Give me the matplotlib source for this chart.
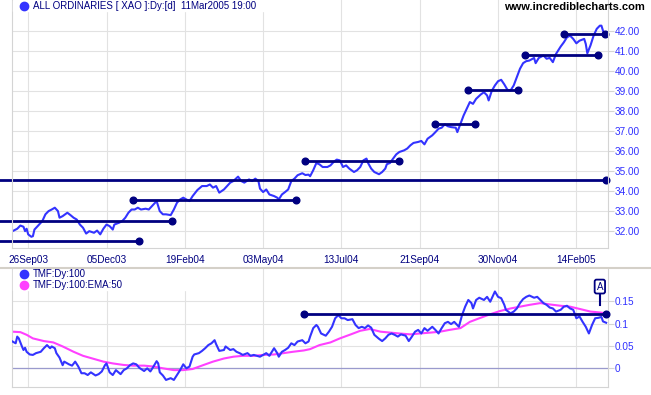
import matplotlib
matplotlib.use('Agg')
import matplotlib.pyplot as plt
from matplotlib.lines import Line2D
from matplotlib.patches import Rectangle
from matplotlib.ticker import FormatStrFormatter

plt.rcParams['font.family'] = ['Liberation Sans', 'DejaVu Sans']

# trading-day index (0 = 12Sep03, 379 = 11Mar05) and closing level of the XAO ('000s)
price_day = [0, 3, 5, 7, 8, 9, 10, 12, 13, 14, 16, 19, 21, 23, 25, 27, 29, 30, 32, 35,
             37, 39, 41, 43, 45, 47, 49, 52, 54, 56, 58, 60, 62, 64, 65, 68, 70, 72, 74, 76,
             78, 80, 82, 85, 87, 89, 91, 92, 94, 96, 98, 101, 103, 105, 107, 109, 111, 113, 115, 118,
             121, 124, 126, 128, 130, 132, 135, 137, 139, 141, 144, 146, 148, 151, 153, 155, 157, 158, 160, 162,
             164, 167, 169, 170, 172, 174, 176, 178, 180, 182, 185, 187, 189, 190, 192, 194, 196, 198, 201, 203,
             205, 207, 209, 211, 213, 215, 218, 220, 222, 224, 226, 227, 229, 231, 234, 236, 238, 239, 241, 243,
             245, 247, 250, 252, 254, 256, 259, 261, 263, 265, 268, 270, 272, 274, 276, 278, 280, 283, 284, 286,
             288, 290, 292, 294, 296, 299, 301, 303, 304, 306, 308, 310, 312, 314, 316, 318, 320, 322, 324, 326,
             328, 330, 333, 334, 336, 339, 341, 343, 345, 347, 350, 352, 354, 356, 358, 360, 362, 365, 366, 367,
             369, 371, 373, 375, 376, 377, 378, 379]
price_close = [32.0, 32.12, 32.28, 32.22, 32.0, 32.12, 31.84, 31.72, 31.75, 32.08, 32.25, 32.5, 32.84, 33.0, 33.08, 33.17, 33.0, 32.67, 32.75, 32.92,
               32.8, 32.67, 32.58, 32.33, 32.17, 31.88, 32.0, 31.92, 32.03, 31.84, 32.12, 32.33, 32.25, 32.08, 32.33, 32.42, 32.5, 32.67, 32.92, 33.08,
               33.08, 33.17, 33.08, 33.12, 33.08, 33.25, 33.42, 33.5, 33.0, 32.84, 32.84, 32.8, 33.08, 33.42, 33.58, 33.67, 33.58, 33.5, 33.75, 34.05,
               34.25, 34.25, 34.33, 34.17, 34.25, 33.92, 34.08, 34.25, 34.42, 34.5, 34.72, 34.5, 34.42, 34.58, 34.5, 34.62, 34.5, 34.12, 33.95, 34.08,
               33.83, 33.75, 33.67, 33.58, 33.83, 33.95, 34.08, 34.5, 34.62, 34.79, 34.89, 34.8, 34.82, 34.74, 35.04, 35.4, 35.33, 35.2, 35.2, 35.28,
               35.45, 35.57, 35.53, 35.2, 35.28, 35.12, 34.95, 35.04, 35.2, 35.53, 35.62, 35.4, 35.12, 34.95, 34.84, 34.95, 35.12, 35.34, 35.4, 35.62,
               35.83, 35.95, 36.03, 36.12, 36.28, 36.4, 36.45, 36.5, 36.33, 36.61, 36.78, 36.94, 37.11, 37.16, 37.33, 37.23, 37.19, 37.16, 36.94, 37.36,
               37.77, 38.1, 38.44, 38.35, 38.6, 38.82, 38.93, 38.77, 38.52, 39.0, 39.27, 39.48, 39.55, 39.32, 39.05, 39.02, 39.27, 39.68, 40.1, 40.38,
               40.48, 40.51, 40.64, 40.38, 40.64, 40.76, 40.6, 40.64, 40.43, 40.84, 41.21, 41.42, 41.67, 41.75, 41.59, 41.37, 41.5, 41.59, 41.34, 40.87,
               41.26, 41.75, 42.09, 42.25, 42.25, 42.0, 41.84, 41.92]

# horizontal support / resistance lines on the price panel (start day, end day, level)
line_start = [-9, -9, -9, 77, 187, 270, 291, 327, 352]
line_end = [81, 102, 379, 181, 247, 295, 323, 374, 378]
line_level = [31.53, 32.53, 34.55, 33.53, 35.5, 37.36, 39.02, 40.79, 41.84]

# Twiggs Money Flow (100 day)
tmf_day = [0, 2, 3, 4, 6, 7, 8, 9, 11, 13, 15, 18, 20, 22, 24, 25, 27, 28, 30, 32,
           33, 36, 38, 40, 42, 44, 46, 48, 50, 53, 55, 57, 59, 60, 62, 64, 66, 69, 71, 73,
           75, 77, 79, 81, 84, 86, 88, 90, 92, 93, 94, 96, 98, 101, 103, 105, 107, 109, 111, 113,
           115, 116, 119, 121, 123, 125, 127, 129, 130, 132, 135, 136, 139, 141, 143, 145, 147, 150, 152, 154,
           156, 158, 160, 162, 164, 167, 169, 170, 172, 174, 176, 178, 180, 182, 185, 187, 189, 190, 192, 194,
           195, 197, 200, 202, 204, 206, 208, 210, 212, 214, 217, 219, 221, 223, 225, 227, 229, 231, 234, 236,
           238, 240, 242, 244, 246, 248, 251, 253, 255, 257, 259, 261, 263, 265, 268, 270, 272, 274, 276, 278,
           280, 282, 285, 287, 289, 291, 293, 294, 296, 298, 301, 303, 305, 307, 308, 310, 312, 314, 315, 318,
           320, 322, 324, 326, 328, 330, 333, 335, 337, 339, 341, 343, 345, 347, 350, 352, 354, 356, 358, 360,
           362, 364, 366, 368, 370, 372, 374, 376, 377, 379]
tmf_val = [0.060, 0.056, 0.071, 0.067, 0.049, 0.041, 0.046, 0.037, 0.031, 0.030, 0.034, 0.037, 0.045, 0.052, 0.045, 0.049, 0.045, 0.034, 0.024, 0.007,
           0.015, 0.009, 0.006, 0.015, 0.004, -0.011, -0.011, -0.015, -0.009, -0.016, -0.013, -0.007, 0.007, 0.011, -0.009, -0.015, -0.004, -0.013, -0.004, 0.000,
           0.007, 0.011, 0.009, 0.001, -0.006, 0.000, -0.007, 0.004, 0.016, 0.011, -0.009, -0.016, -0.026, -0.022, -0.026, -0.015, -0.004, 0.009, 0.000, 0.004,
           0.026, 0.031, 0.034, 0.039, 0.045, 0.052, 0.056, 0.063, 0.054, 0.039, 0.041, 0.049, 0.041, 0.043, 0.037, 0.034, 0.030, 0.034, 0.028, 0.030,
           0.028, 0.026, 0.030, 0.034, 0.028, 0.045, 0.034, 0.026, 0.037, 0.041, 0.046, 0.056, 0.052, 0.060, 0.063, 0.056, 0.060, 0.071, 0.090, 0.097,
           0.093, 0.078, 0.073, 0.082, 0.093, 0.112, 0.119, 0.112, 0.112, 0.108, 0.110, 0.097, 0.090, 0.093, 0.090, 0.096, 0.091, 0.075, 0.066, 0.061,
           0.067, 0.075, 0.078, 0.075, 0.071, 0.076, 0.073, 0.061, 0.071, 0.082, 0.086, 0.078, 0.090, 0.084, 0.093, 0.086, 0.078, 0.090, 0.101, 0.104,
           0.099, 0.104, 0.093, 0.119, 0.138, 0.153, 0.146, 0.134, 0.153, 0.158, 0.153, 0.160, 0.149, 0.164, 0.172, 0.160, 0.157, 0.142, 0.131, 0.123,
           0.127, 0.134, 0.146, 0.155, 0.160, 0.163, 0.158, 0.160, 0.153, 0.146, 0.142, 0.136, 0.134, 0.127, 0.131, 0.138, 0.140, 0.134, 0.131, 0.112,
           0.116, 0.104, 0.093, 0.078, 0.097, 0.112, 0.113, 0.115, 0.105, 0.102]

# 50 day EMA of TMF
ema_day = [0, 5, 9, 13, 20, 26, 32, 39, 45, 52, 58, 64, 71, 77, 84, 90, 96, 103, 109, 115,
           122, 128, 135, 141, 147, 154, 160, 167, 173, 179, 186, 190, 196, 203, 209, 216, 222, 228, 235, 241,
           247, 254, 260, 267, 273, 279, 286, 292, 298, 305, 311, 318, 324, 330, 337, 343, 350, 356, 362, 369,
           375, 379]
ema_val = [0.082, 0.081, 0.075, 0.067, 0.061, 0.058, 0.049, 0.037, 0.028, 0.021, 0.015, 0.011, 0.0075, 0.006, 0.006, 0.004, 0.0, -0.004, -0.004, -0.0015,
           0.0075, 0.015, 0.022, 0.026, 0.028, 0.028, 0.030, 0.031, 0.034, 0.037, 0.040, 0.043, 0.052, 0.058, 0.067, 0.076, 0.084, 0.088, 0.082, 0.080,
           0.078, 0.076, 0.078, 0.080, 0.082, 0.086, 0.090, 0.104, 0.112, 0.121, 0.128, 0.134, 0.138, 0.142, 0.146, 0.143, 0.140, 0.138, 0.133, 0.127,
           0.125, 0.123]

tmf_line = (186, 379, 0.121)

tick_labels = ['26Sep03', '05Dec03', '19Feb04', '03May04', '13Jul04', '21Sep04', '30Nov04', '14Feb05']

navy = '#000080'
blue = '#3333ff'
magenta = '#ff40ff'
grid_c = '#e2e2e2'

W, H = 651, 395
fig = plt.figure(figsize=(W / 100, H / 100), dpi=100)


def box(left, top, right, bottom):
    return [left / W, 1 - bottom / H, (right - left) / W, (bottom - top) / H]


ax1 = fig.add_axes(box(12, 0, 608, 248))
ax2 = fig.add_axes(box(12, 269, 608, 387))

for ax in (ax1, ax2):
    ax.set_xlim(-0.34, 380.2)
    ax.set_xticks(range(10, 380, 50))
    ax.grid(True, color=grid_c, lw=0.8)
    ax.set_axisbelow(True)
    ax.yaxis.tick_right()
    ax.tick_params(axis='y', length=4, color='#d4d4d4', width=0.8, pad=1,
                   labelcolor='#2f2fff', labelsize=7.2)
    ax.spines['top'].set_visible(False)
    for s in ('left', 'right', 'bottom'):
        ax.spines[s].set_color('#d4d4d4')
        ax.spines[s].set_linewidth(0.8)

# price panel
ax1.plot(price_day, price_close, color=blue, lw=1.5)
for s, e, lv in zip(line_start, line_end, line_level):
    ax1.plot([s, e], [lv, lv], color=navy, lw=2, clip_on=False, solid_capstyle='butt')
    ax1.plot([e], [lv], 'o', color=navy, ms=4.8, clip_on=False)
    if s >= 0:
        ax1.plot([s], [lv], 'o', color=navy, ms=4.8, clip_on=False)
ax1.set_ylim(31.16, 43.53)
ax1.set_yticks(range(32, 43))
ax1.yaxis.set_major_formatter(FormatStrFormatter('%.2f'))
ax1.set_xticklabels(tick_labels)
ax1.tick_params(axis='x', length=0, pad=5, labelcolor=navy, labelsize=7.2)

# TMF panel
ax2.axhline(0, color='#9a9acd', lw=0.9, zorder=1)
ax2.plot(ema_day, ema_val, color=magenta, lw=1.5, zorder=2)
ax2.plot(tmf_day, tmf_val, color=blue, lw=1.5, zorder=3)
ax2.plot(tmf_line[:2], [tmf_line[2]] * 2, color=navy, lw=2, zorder=4)
ax2.plot(tmf_line[:2], [tmf_line[2]] * 2, 'o', color=navy, ms=4.8, zorder=4, clip_on=False)
ax2.set_ylim(-0.0418, 0.2223)
ax2.set_yticks([0, 0.05, 0.1, 0.15])
ax2.yaxis.set_major_formatter(FormatStrFormatter('%g'))
ax2.tick_params(axis='x', length=0, labelbottom=False)

# "A" flag
ax2.plot([375, 375], [0.1417, 0.172], color=navy, lw=1.5, clip_on=False, zorder=5)
ax2.text(375, 0.183, 'A', ha='center', va='center', fontsize=7, color=navy, zorder=6,
         clip_on=False, bbox=dict(boxstyle='round,pad=0.2', fc='white', ec=navy, lw=1.3))

# panel separator
fig.add_artist(Line2D([0, 1], [1 - 267.5 / H] * 2, color='#d4d0c8', lw=1.5))

# legends
fig.add_artist(Rectangle((13 / W, 1 - 11 / H), 287 / W, 11 / H, color='white', zorder=1))
fig.add_artist(Line2D([24 / W], [1 - 6 / H], marker='o', ms=6, color=blue, zorder=2))
fig.text(32.7 / W, 1 - 6 / H, 'ALL ORDINARIES [ XAO ]:Dy:[d]  11Mar2005 19:00',
         ha='left', va='center', fontsize=7, color=navy, zorder=3)
fig.text(645 / W, 1 - 7 / H, 'www.incrediblecharts.com', ha='right', va='center',
         fontsize=8, fontweight='bold', color='black', zorder=3)

fig.add_artist(Rectangle((13 / W, 1 - 290 / H), 217 / W, 21 / H, color='white', zorder=1))
fig.add_artist(Line2D([24 / W], [1 - 274.3 / H], marker='o', ms=6, color=blue, zorder=2))
fig.add_artist(Line2D([24 / W], [1 - 285.3 / H], marker='o', ms=6, color=magenta, zorder=2))
fig.text(32.7 / W, 1 - 274.3 / H, 'TMF:Dy:100', ha='left', va='center', fontsize=7,
         color=navy, zorder=3)
fig.text(32.7 / W, 1 - 285.3 / H, 'TMF:Dy:100:EMA:50', ha='left', va='center', fontsize=7,
         color=navy, zorder=3)

fig.savefig('out.png', dpi=100)
